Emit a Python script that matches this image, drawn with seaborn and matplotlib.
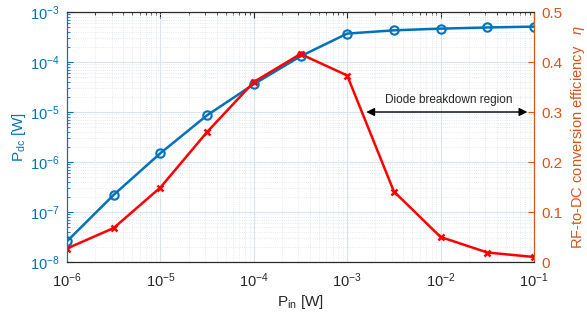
import numpy as np
import pandas as pd
import matplotlib
matplotlib.use("Agg")
import matplotlib.pyplot as plt
import seaborn as sns

# Data
p_in = [1e-6, 10**-5.5, 1e-5, 10**-4.5, 1e-4, 10**-3.5, 1e-3, 10**-2.5, 1e-2, 10**-1.5, 1e-1]
p_dc = [2.6e-8, 2.2e-7, 1.5e-6, 8.6e-6, 3.6e-5, 1.3e-4, 3.7e-4, 4.3e-4, 4.65e-4, 4.9e-4, 5.1e-4]
eta = [0.027, 0.068, 0.149, 0.26, 0.36, 0.416, 0.373, 0.141, 0.05, 0.019, 0.01]
arrow_x = [1.6e-3, 0.085]
arrow_y = 0.3
annot_text = "Diode breakdown region"

sns.set_style("white")
plt.rcParams['font.family'] = ['Liberation Sans', 'DejaVu Sans']
plt.rcParams['mathtext.fontset'] = 'custom'
plt.rcParams['mathtext.rm'] = 'Liberation Sans'
plt.rcParams['mathtext.it'] = 'Liberation Sans:italic'

blue = '#0072BD'
orange = '#D95319'

df = pd.DataFrame({'pin': p_in, 'pdc': p_dc, 'eta': eta})

fig = plt.figure(figsize=(5.87, 3.12), dpi=100)
ax = fig.add_axes([67/587, 1-262/312, (534-67)/587, (262-12)/312])
ax2 = ax.twinx()

sns.lineplot(data=df, x='pin', y='pdc', ax=ax, color=blue, marker='o', markersize=6,
             markerfacecolor='none', markeredgecolor=blue, markeredgewidth=1.5, linewidth=1.8)
sns.lineplot(data=df, x='pin', y='eta', ax=ax2, color='red', marker='x', markersize=5,
             markeredgecolor='red', markeredgewidth=1.8, linewidth=1.8)

ax.set_xscale('log')
ax.set_yscale('log')
ax.set_xlim(1e-6, 1e-1)
ax.set_ylim(1e-8, 1e-3)
ax2.set_ylim(0, 0.5)
ax2.set_yticks([0, 0.1, 0.2, 0.3, 0.4, 0.5])
ax2.set_yticklabels(['0', '0.1', '0.2', '0.3', '0.4', '0.5'])

ax.grid(True, which='major', color='#d8e4ee', linewidth=0.8)
ax.grid(True, which='minor', color='#dde3ea', linestyle=':', linewidth=0.6)
ax.set_axisbelow(True)

ax.tick_params(which='both', direction='in', top=True, labelsize=10.5)
ax.tick_params(which='major', length=4)
ax.tick_params(axis='x', colors='#262626', which='both', pad=7)
ax.tick_params(axis='y', which='both', colors=blue, labelcolor=blue, pad=5)
ax.tick_params(axis='x', labelcolor='#262626')
ax2.tick_params(axis='y', which='both', direction='in', colors=orange, labelcolor=orange,
                labelsize=11, pad=5, length=4)

for s in ['top', 'bottom']:
    ax.spines[s].set_color('#262626')
ax.spines['left'].set_color(blue)
ax2.spines['left'].set_color(blue)
ax2.spines['right'].set_color(orange)
ax.spines['right'].set_color(orange)
for a in (ax, ax2):
    for s in a.spines.values():
        s.set_linewidth(0.8)

ax.set_xlabel(r'P$_{\mathrm{in}}$ [W]', fontsize=11, color='#262626', labelpad=2)
ax.set_ylabel(r'P$_{\mathrm{dc}}$ [W]', fontsize=11, color=blue, labelpad=2)
ax2.set_ylabel(r'RF-to-DC conversion efficiency   $\eta$', fontsize=10.5, color=orange, labelpad=5)

ax2.annotate('', xy=(arrow_x[0], arrow_y), xytext=(arrow_x[1], arrow_y),
             xycoords=('data', 'data'),
             arrowprops=dict(arrowstyle='<|-|>', color='black', lw=1.0,
                             mutation_scale=12, shrinkA=0, shrinkB=0))
ax2.set_xscale('log')
ax2.text(np.sqrt(arrow_x[0]*arrow_x[1]) * 1.05, arrow_y + 0.024, annot_text,
         ha='center', va='center', fontsize=8.5, color='#262626')

fig.savefig('out.png', dpi=100)
